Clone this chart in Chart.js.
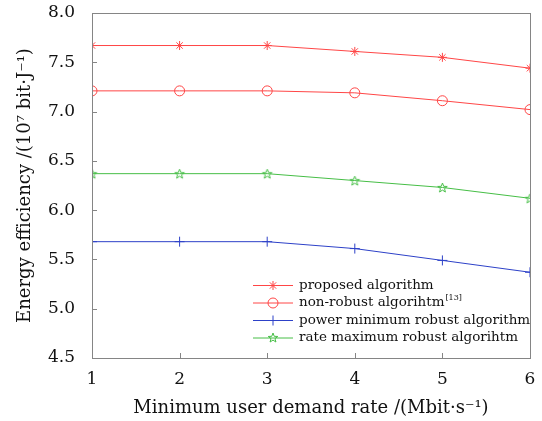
<!DOCTYPE html>
<html><head><meta charset="utf-8">
<script src="https://cdn.jsdelivr.net/npm/chart.js@4/dist/chart.umd.min.js"></script>
<style>html,body{margin:0;padding:0;background:#fff}#w{width:542px;height:421px}</style>
</head><body><div id="w"><canvas id="c" width="542" height="421"></canvas></div>
<script>
const rates = [1, 2, 3, 4, 5, 6];
const proposed = [7.67, 7.67, 7.67, 7.61, 7.55, 7.44];
const nonRobust = [7.21, 7.21, 7.21, 7.19, 7.11, 7.02];
const powerMin = [5.68, 5.68, 5.68, 5.61, 5.49, 5.37];
const rateMax = [6.37, 6.37, 6.37, 6.30, 6.23, 6.12];
const yTicks = [4.5, 5.0, 5.5, 6.0, 6.5, 7.0, 7.5, 8.0];
const seriesNames = ['proposed algorithm', 'non-robust algorihtm', 'power minimum robust algorithm', 'rate maximum robust algorihtm'];

const RED = 'rgb(255,70,70)', BLUE = 'rgb(45,65,200)', GREEN = 'rgb(70,190,70)';
const FONT = "'DejaVu Serif', serif";

function starPath(ctx, cx, cy, r) {
  ctx.beginPath();
  for (let i = 0; i < 10; i++) {
    const rr = i % 2 === 0 ? r : r * 0.42;
    const a = -Math.PI / 2 + i * Math.PI / 5;
    const px = cx + rr * Math.cos(a), py = cy + rr * Math.sin(a);
    if (i === 0) ctx.moveTo(px, py); else ctx.lineTo(px, py);
  }
  ctx.closePath();
}
const starImg = document.createElement('canvas');
starImg.width = 13; starImg.height = 13;
(function(){ const g = starImg.getContext('2d'); g.strokeStyle = GREEN; g.lineWidth = 1; starPath(g, 6.5, 7, 5); g.stroke(); })();

function pts(arr) { return rates.map((x, i) => ({x: x, y: arr[i]})); }

function drawMarker(ctx, style, x, y, color) {
  ctx.save(); ctx.strokeStyle = color; ctx.lineWidth = 1; ctx.beginPath();
  if (style === 'star') {
    const r = 4.5, d = r * 0.707;
    ctx.moveTo(x - r, y); ctx.lineTo(x + r, y); ctx.moveTo(x, y - r); ctx.lineTo(x, y + r);
    ctx.moveTo(x - d, y - d); ctx.lineTo(x + d, y + d); ctx.moveTo(x - d, y + d); ctx.lineTo(x + d, y - d);
    ctx.stroke();
  } else if (style === 'circle') {
    ctx.arc(x, y, 5, 0, Math.PI * 2); ctx.stroke();
  } else if (style === 'cross') {
    ctx.moveTo(x - 5, y); ctx.lineTo(x + 5, y); ctx.moveTo(x, y - 5); ctx.lineTo(x, y + 5); ctx.stroke();
  } else {
    starPath(ctx, x, y, 5); ctx.stroke();
  }
  ctx.restore();
}

const frame = {
  id: 'frame',
  afterDraw(chart) {
    const ctx = chart.ctx, a = chart.chartArea, xs = chart.scales.x, ys = chart.scales.y;
    ctx.save();
    ctx.strokeStyle = '#858585'; ctx.lineWidth = 1;
    ctx.strokeRect(Math.round(a.left) + 0.5, Math.round(a.top) + 0.5, Math.round(a.right - a.left), Math.round(a.bottom - a.top));
    ctx.beginPath();
    yTicks.forEach(v => { const py = Math.round(ys.getPixelForValue(v)) + 0.5; ctx.moveTo(a.left, py); ctx.lineTo(a.left + 5, py); });
    rates.forEach(v => { const px = Math.round(xs.getPixelForValue(v)) + 0.5; ctx.moveTo(px, a.bottom); ctx.lineTo(px, a.bottom - 5); });
    ctx.stroke();
    // legend
    const styles = ['star', 'circle', 'cross', 'pstar'];
    const colors = [RED, RED, BLUE, GREEN];
    const rowY = [285, 302.5, 320, 337.5];
    ctx.font = "13.5px " + FONT; ctx.textBaseline = 'middle'; ctx.textAlign = 'left';
    for (let i = 0; i < 4; i++) {
      const y = rowY[i];
      ctx.strokeStyle = colors[i]; ctx.lineWidth = 1;
      ctx.beginPath(); ctx.moveTo(253, y + 0.5); ctx.lineTo(293, y + 0.5); ctx.stroke();
      drawMarker(ctx, styles[i], 273, y + 0.5, colors[i]);
      ctx.fillStyle = '#111';
      ctx.fillText(seriesNames[i], 299, y);
      if (i === 1) {
        const w = ctx.measureText(seriesNames[i]).width;
        ctx.save(); ctx.font = "8px " + FONT; ctx.fillText('[13]', 299 + w + 1, y - 5); ctx.restore();
      }
    }
    ctx.restore();
  }
};

new Chart(document.getElementById('c'), {
  type: 'line',
  data: {
    datasets: [
      {label: seriesNames[0], data: pts(proposed), borderColor: RED, backgroundColor: RED, pointStyle: 'star', pointRadius: 4.5, pointBorderWidth: 1, borderWidth: 1},
      {label: seriesNames[1], data: pts(nonRobust), borderColor: RED, backgroundColor: 'rgba(0,0,0,0)', pointStyle: 'circle', pointRadius: 5, pointBorderWidth: 1, borderWidth: 1},
      {label: seriesNames[2], data: pts(powerMin), borderColor: BLUE, backgroundColor: BLUE, pointStyle: 'cross', pointRadius: 5, pointBorderWidth: 1, borderWidth: 1},
      {label: seriesNames[3], data: pts(rateMax), borderColor: GREEN, backgroundColor: GREEN, pointStyle: starImg, pointRadius: 6, pointBorderWidth: 1, borderWidth: 1}
    ]
  },
  options: {
    responsive: false, animation: false,
    layout: {padding: {left: 15, right: 12, top: 0, bottom: 2}},
    plugins: {legend: {display: false}, tooltip: {enabled: false}},
    elements: {line: {tension: 0}},
    scales: {
      x: {type: 'linear', min: 1, max: 6,
        afterFit(s) { s.height = 61; s.paddingLeft = 0; s.paddingRight = 0; },
        ticks: {stepSize: 1, color: '#111', font: {family: FONT, size: 17}, padding: 3, maxRotation: 0},
        grid: {display: false}, border: {display: false},
        title: {display: true, text: 'Minimum user demand rate /(Mbit·s⁻¹)', color: '#111', font: {family: FONT, size: 18}, padding: {top: 0, bottom: 0}}
      },
      y: {min: 4.5, max: 8.0,
        afterBuildTicks(s) { s.ticks = yTicks.map(v => ({value: v})); },
        afterFit(s) { s.width = 77; s.paddingTop = 13; s.paddingBottom = 0; },
        ticks: {color: '#111', font: {family: FONT, size: 17}, padding: 9, callback: v => Number(v).toFixed(1)},
        grid: {display: false}, border: {display: false},
        title: {display: true, text: 'Energy efficiency /(10⁷ bit·J⁻¹)', color: '#111', font: {family: FONT, size: 18}, padding: {top: 0, bottom: 0}}
      }
    }
  },
  plugins: [frame]
});
</script></body></html>
